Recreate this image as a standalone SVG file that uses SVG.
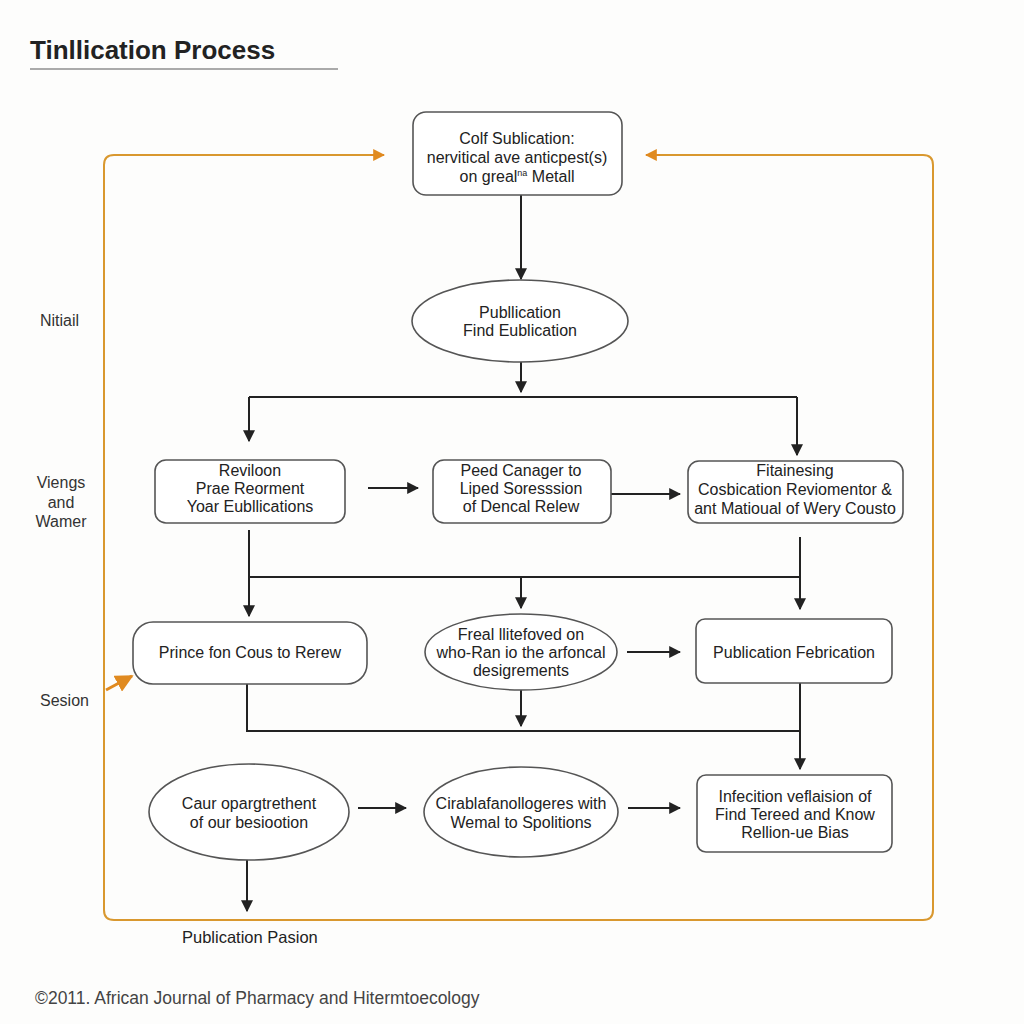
<svg xmlns="http://www.w3.org/2000/svg" width="1024" height="1024" viewBox="0 0 1024 1024">
<style>
text{font-family:"Liberation Sans",Arial,sans-serif;fill:#222;}
.n{font-size:16px;text-anchor:middle;}
.lbl{font-size:16px;fill:#333;}
.box{fill:#fff;stroke:#555;stroke-width:1.6;}
.ln{fill:none;stroke:#222;stroke-width:2;}
.ar{fill:none;stroke:#222;stroke-width:2;marker-end:url(#ah);}
.or{fill:none;stroke:#d9982f;stroke-width:2;}
</style>
<defs>
<marker id="ah" viewBox="0 0 10 10" refX="9" refY="5" markerWidth="6" markerHeight="6" orient="auto" markerUnits="strokeWidth">
<path d="M0,0 L10,5 L0,10 z" fill="#222"/>
</marker>
<marker id="oh" viewBox="0 0 10 10" refX="9" refY="5" markerWidth="6" markerHeight="6" orient="auto" markerUnits="strokeWidth">
<path d="M0,0 L10,5 L0,10 z" fill="#e08a20"/>
</marker>
</defs>
<rect width="1024" height="1024" fill="#fdfdfc"/>
<text x="30" y="59" style="font-size:26px;font-weight:bold;">Tinllication Process</text>
<line x1="30" y1="69" x2="338" y2="69" stroke="#aaa" stroke-width="2"/>

<g id="loop">
<path class="or" d="M384,155 L114,155 Q104,155 104,165 L104,910 Q104,920 114,920 L923,920 Q933,920 933,910 L933,165 Q933,155 923,155 L646,155"/>
<line x1="370" y1="155" x2="384" y2="155" stroke="#e08a20" stroke-width="2" marker-end="url(#oh)"/>
<line x1="660" y1="155" x2="646" y2="155" stroke="#e08a20" stroke-width="2" marker-end="url(#oh)"/>
<line x1="106" y1="690" x2="132" y2="676" stroke="#e08a20" stroke-width="3" marker-end="url(#oh)"/>
</g>

<g id="connectors">
<line class="ar" x1="521" y1="195" x2="521" y2="279"/>
<line class="ar" x1="521" y1="362" x2="521" y2="392"/>
<path class="ln" d="M249,397 L797,397"/>
<line class="ar" x1="249" y1="397" x2="249" y2="441"/>
<line class="ar" x1="797" y1="397" x2="797" y2="455"/>
<line class="ar" x1="368" y1="488" x2="418" y2="488"/>
<line class="ar" x1="611" y1="494" x2="680" y2="494"/>
<path class="ln" d="M249,530 L249,577 M249,577 L800,577 M800,537 L800,577"/>
<line class="ar" x1="249" y1="577" x2="249" y2="616"/>
<line class="ar" x1="521" y1="577" x2="521" y2="608"/>
<line class="ar" x1="800" y1="577" x2="800" y2="609"/>
<line class="ar" x1="627" y1="652" x2="680" y2="652"/>
<path class="ln" d="M247,684 L247,731 L800,731"/>
<line class="ar" x1="521" y1="690" x2="521" y2="726"/>
<line class="ar" x1="800" y1="683" x2="800" y2="769"/>
<line class="ar" x1="358" y1="808" x2="406" y2="808"/>
<line class="ar" x1="628" y1="808" x2="680" y2="808"/>
<line class="ar" x1="247" y1="860" x2="247" y2="911"/>
</g>

<g id="n1">
<rect class="box" x="413" y="112" width="209" height="83" rx="13"/>
<text class="n" x="517" y="144">Colf Sublication:</text>
<text class="n" x="517" y="163">nervitical ave anticpest(s)</text>
<text class="n" x="517" y="182">on greal<tspan font-size="9" dy="-6">na</tspan><tspan dy="6"> Metall</tspan></text>
</g>
<g id="n2">
<ellipse class="box" cx="520" cy="321" rx="108" ry="41"/>
<text class="n" x="520" y="318">Publlication</text>
<text class="n" x="520" y="336">Find Eublication</text>
</g>
<g id="n3">
<rect class="box" x="155" y="460" width="190" height="63" rx="11"/>
<text class="n" x="250" y="476">Reviloon</text>
<text class="n" x="250" y="494">Prae Reorment</text>
<text class="n" x="250" y="512">Yoar Eubllications</text>
</g>
<g id="n4">
<rect class="box" x="433" y="460" width="178" height="63" rx="11"/>
<text class="n" x="521" y="476">Peed Canager to</text>
<text class="n" x="521" y="494">Liped Soresssion</text>
<text class="n" x="521" y="512">of Dencal Relew</text>
</g>
<g id="n5">
<rect class="box" x="688" y="461" width="215" height="62" rx="11"/>
<text class="n" x="795" y="476">Fitainesing</text>
<text class="n" x="795" y="495">Cosbication Reviomentor &amp;</text>
<text class="n" x="795" y="514">ant Matioual of Wery Cousto</text>
</g>
<g id="n6">
<rect class="box" x="133" y="622" width="234" height="62" rx="20"/>
<text class="n" x="250" y="658">Prince fon Cous to Rerew</text>
</g>
<g id="n7">
<ellipse class="box" cx="521" cy="652" rx="96" ry="38"/>
<text class="n" x="521" y="640">Freal llitefoved on</text>
<text class="n" x="521" y="658">who-Ran io the arfoncal</text>
<text class="n" x="521" y="676">desigrements</text>
</g>
<g id="n8">
<rect class="box" x="696" y="619" width="196" height="64" rx="9"/>
<text class="n" x="794" y="658">Publication Febrication</text>
</g>
<g id="n9">
<ellipse class="box" cx="249" cy="812" rx="100" ry="48"/>
<text class="n" x="249" y="809">Caur opargtrethent</text>
<text class="n" x="249" y="828">of our besiootion</text>
</g>
<g id="n10">
<ellipse class="box" cx="521" cy="812" rx="97" ry="45"/>
<text class="n" x="521" y="809">Cirablafanollogeres with</text>
<text class="n" x="521" y="828">Wemal to Spolitions</text>
</g>
<g id="n11">
<rect class="box" x="697" y="775" width="195" height="77" rx="9"/>
<text class="n" x="795" y="802">Infecition veflaision of</text>
<text class="n" x="795" y="820">Find Tereed and Know</text>
<text class="n" x="795" y="838">Rellion-ue Bias</text>
</g>

<g id="labels">
<text class="lbl" x="40" y="326">Nitiail</text>
<text class="lbl" x="61" y="488" text-anchor="middle">Viengs</text>
<text class="lbl" x="61" y="508" text-anchor="middle">and</text>
<text class="lbl" x="61" y="527" text-anchor="middle">Wamer</text>
<text class="lbl" x="40" y="706">Sesion</text>
<text x="182" y="943" style="font-size:16.5px;">Publication Pasion</text>
<text x="35" y="1004" style="font-size:17.5px;fill:#444;">©2011. African Journal of Pharmacy and Hitermtoecology</text>
</g>
</svg>
